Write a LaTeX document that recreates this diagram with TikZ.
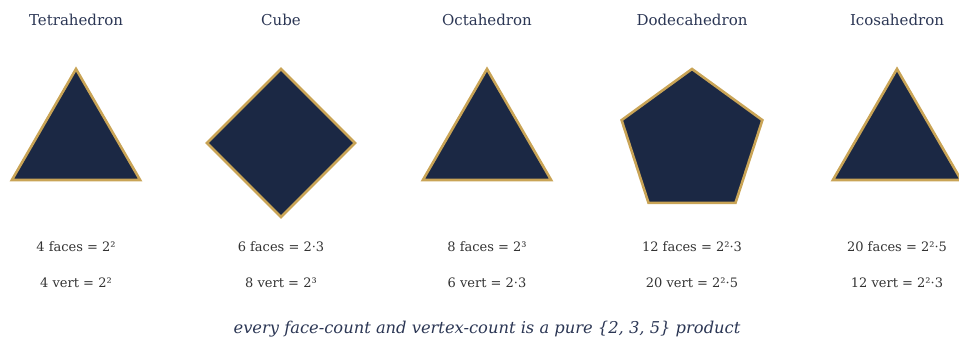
\documentclass[tikz,border=0pt]{standalone}
\usepackage{fontspec}
\setmainfont{DejaVu Serif}
\usetikzlibrary{calc}
\definecolor{solidFill}{HTML}{1B2844}
\definecolor{goldEdge}{HTML}{C9A456}
\definecolor{titleInk}{HTML}{2B3654}
\definecolor{labelInk}{HTML}{333333}

\begin{document}
\begin{tikzpicture}[x=1pt,y=1pt,
  solidface/.style={fill=solidFill,draw=goldEdge,line width=2.6pt,line join=miter},
  solidname/.style={text=titleInk,font=\fontsize{15}{17}\selectfont},
  countline/.style={text=labelInk,font=\fontsize{13}{15}\selectfont}]
\useasboundingbox (0,0) rectangle (959,337);
\foreach \cx/\n/\nm/\fc/\vc [count=\i] in {
  76/3/Tetrahedron/{4 faces = 2²}/{4 vert = 2²},
  281/4/Cube/{6 faces = 2·3}/{8 vert = 2³},
  487/3/Octahedron/{8 faces = 2³}/{6 vert = 2·3},
  692/5/Dodecahedron/{12 faces = 2²·3}/{20 vert = 2²·5},
  897/3/Icosahedron/{20 faces = 2²·5}/{12 vert = 2²·3}}
{
  \pgfmathtruncatemacro{\m}{\n-1}
  \draw[solidface] ($(\cx,194)+(90:74)$)
    \foreach \k in {1,...,\m} { -- ($(\cx,194)+({90+360*\k/\n}:74)$) } -- cycle;
  \node[solidname] (title\i) at (\cx,317) {\nm};
  \node[countline] (faces\i) at (\cx,90) {\fc};
  \node[countline] (vert\i) at (\cx,54) {\vc};
}
\node[text=titleInk,font=\fontsize{16.3}{19}\selectfont\itshape] (caption) at (487,8)
  {every face-count and vertex-count is a pure \{2, 3, 5\} product};
\end{tikzpicture}
\end{document}
